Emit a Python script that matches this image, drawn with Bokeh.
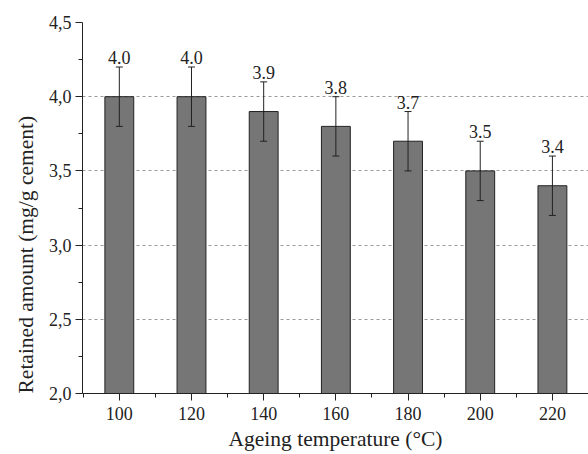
from bokeh.plotting import figure
from bokeh.models import ColumnDataSource, Whisker, TeeHead, FixedTicker, CustomJSTickFormatter, Range1d, Title
from bokeh.core.properties import value
from bokeh.embed import file_html
from bokeh.resources import INLINE

temperatures = [100, 120, 140, 160, 180, 200, 220]
retained = [4.0, 4.0, 3.9, 3.8, 3.7, 3.5, 3.4]
errors = [0.2, 0.2, 0.2, 0.2, 0.2, 0.2, 0.2]
bar_labels = ["4.0", "4.0", "3.9", "3.8", "3.7", "3.5", "3.4"]
y_ticks = [2.0, 2.5, 3.0, 3.5, 4.0, 4.5]
y_minor = [2.25, 2.75, 3.25, 3.75, 4.25]
x_minor = [90, 110, 130, 150, 170, 190, 210, 230]

src = ColumnDataSource(dict(
    x=temperatures, top=retained,
    upper=[v + e for v, e in zip(retained, errors)],
    lower=[v - e for v, e in zip(retained, errors)],
    label=bar_labels,
))

FONT = "Liberation Serif"
p = figure(width=588, height=454, output_backend="svg", toolbar_location=None,
           x_range=Range1d(89.8, 230), y_range=Range1d(2.0, 4.5),
           min_border_left=82, min_border_right=0, min_border_top=22, min_border_bottom=61)
p.outline_line_color = None
p.background_fill_color = "white"

p.vbar(x="x", top="top", bottom=2.0, width=8, source=src,
       fill_color="#767676", line_color="#222222", line_width=1)

w = Whisker(base="x", upper="upper", lower="lower", source=src,
            line_color="#222222", line_width=1, level="overlay",
            upper_head=TeeHead(size=7, line_color="#222222", line_width=1),
            lower_head=TeeHead(size=7, line_color="#222222", line_width=1))
p.add_layout(w)

p.text(x="x", y="upper", text="label", source=src, y_offset=-3,
       text_align="center", text_baseline="bottom",
       text_font=value(FONT), text_font_size="18px", text_color="#222222")

# grid
p.xgrid.visible = False
p.ygrid.ticker = FixedTicker(ticks=[2.5, 3.0, 3.5, 4.0])
p.ygrid.grid_line_color = "#9a9a9a"
p.ygrid.grid_line_dash = "3 3"
p.ygrid.grid_line_width = 1

# axes
p.yaxis.ticker = FixedTicker(ticks=y_ticks, minor_ticks=y_minor)
p.xaxis.ticker = FixedTicker(ticks=temperatures, minor_ticks=x_minor)
p.yaxis.formatter = CustomJSTickFormatter(code="return tick.toFixed(1).replace('.', ',');")
for ax in (p.xaxis, p.yaxis):
    ax.axis_line_color = "#222222"
    ax.major_tick_line_color = "#222222"
    ax.minor_tick_line_color = "#222222"
    ax.major_tick_out = 7
    ax.major_tick_in = 0
    ax.minor_tick_out = 4
    ax.minor_tick_in = 0
    ax.major_label_text_font = FONT
    ax.major_label_text_font_size = "18px"
    ax.major_label_text_color = "#222222"
    ax.axis_label_text_font = FONT
    ax.axis_label_text_font_size = "21.5px"
    ax.axis_label_text_font_style = "normal"
    ax.axis_label_text_color = "#222222"

p.xaxis.axis_label = "Ageing temperature (°C)"
p.xaxis.major_label_standoff = 6
p.yaxis.major_label_standoff = 4
p.xaxis.axis_label_standoff = 4

ytitle = Title(text="Retained amount (mg/g cement)", align="left", offset=0,
               text_font=FONT, text_font_size="21.5px", text_font_style="normal",
               text_color="#222222", standoff=15)
p.add_layout(ytitle, "left")

open("out.html", "w").write(file_html(p, INLINE))
